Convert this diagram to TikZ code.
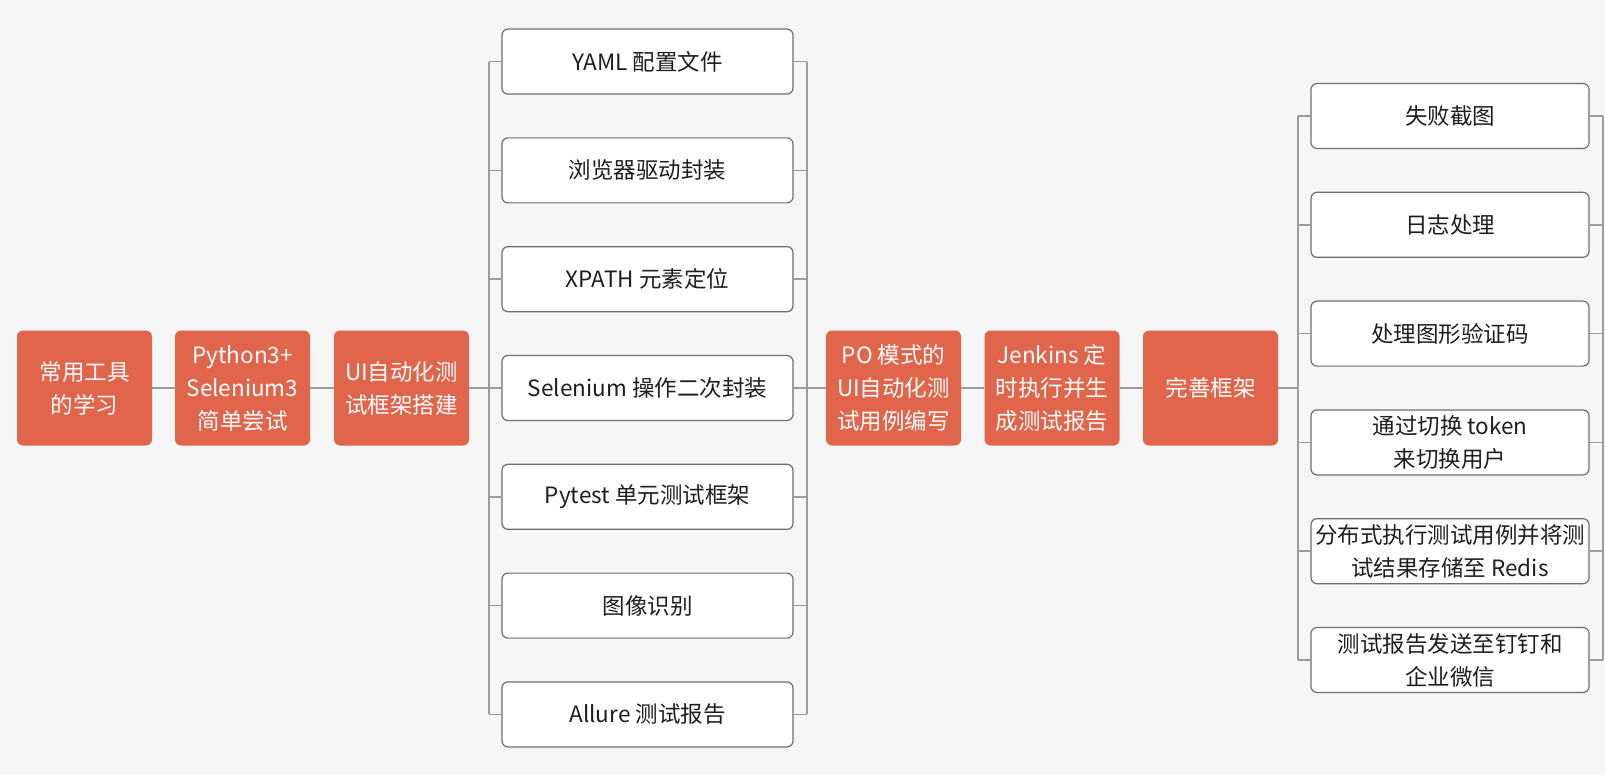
\documentclass[tikz,border=0pt]{standalone}
\usepackage{fontspec}
\setmainfont{Noto Sans CJK SC}
\usepackage{xcolor}
\usepackage{tikz}
\definecolor{bg}{HTML}{F6F6F6}
\definecolor{topic}{HTML}{E0654A}
\definecolor{edge}{HTML}{6E6E6E}
\definecolor{wire}{HTML}{9C9C9C}
\definecolor{ink}{HTML}{1E1E1E}
\tikzset{
  main/.style={fill=topic, rounded corners=6pt, minimum width=135pt, minimum height=115pt,
    inner sep=0pt, align=center, text=white, font=\fontsize{22.5pt}{33pt}\selectfont},
  sub/.style={draw=edge, fill=white, line width=1.2pt, rounded corners=6pt, minimum width=291pt,
    minimum height=65pt, inner sep=0pt, align=center, text=ink, font=\fontsize{22.5pt}{33pt}\selectfont},
  subr/.style={sub, minimum width=278pt},
  link/.style={draw=wire, line width=1.5pt},
}

\begin{document}
\begin{tikzpicture}[x=1pt, y=-1pt]
  \fill[bg] (0,0) rectangle (1605,775);
  \useasboundingbox (0,0) rectangle (1605,775);
  \pgfmathsetmacro{\cy}{388}
  \pgfmathsetmacro{\dy}{108.8}
  % main line
  \node[main] (o1) at (84.5,\cy)  {常用工具\\的学习};
  \node[main] (o2) at (242.5,\cy) {Python3+\\Selenium3\\简单尝试};
  \node[main] (o3) at (401.5,\cy) {UI自动化测\\试框架搭建};
  \node[main] (o4) at (893.5,\cy) {PO 模式的\\UI自动化测\\试用例编写};
  \node[main] (o5) at (1052,\cy)  {Jenkins 定\\时执行并生\\成测试报告};
  \node[main] (o6) at (1210.5,\cy) {完善框架};
  % framework parts
  \node[sub] (m1) at (647.5,\cy-3*\dy) {YAML 配置文件};
  \node[sub] (m2) at (647.5,\cy-2*\dy) {浏览器驱动封装};
  \node[sub] (m3) at (647.5,\cy-1*\dy) {XPATH 元素定位};
  \node[sub] (m4) at (647.5,\cy)       {Selenium 操作二次封装};
  \node[sub] (m5) at (647.5,\cy+1*\dy) {Pytest 单元测试框架};
  \node[sub] (m6) at (647.5,\cy+2*\dy) {图像识别};
  \node[sub] (m7) at (647.5,\cy+3*\dy) {Allure 测试报告};
  % improvements
  \node[subr] (q1) at (1450,\cy-2.5*\dy) {失败截图};
  \node[subr] (q2) at (1450,\cy-1.5*\dy) {日志处理};
  \node[subr] (q3) at (1450,\cy-0.5*\dy) {处理图形验证码};
  \node[subr] (q4) at (1450,\cy+0.5*\dy) {通过切换 token\\来切换用户};
  \node[subr] (q5) at (1450,\cy+1.5*\dy) {分布式执行测试用例并将测\\试结果存储至 Redis};
  \node[subr] (q6) at (1450,\cy+2.5*\dy) {测试报告发送至钉钉和\\企业微信};
  % bars
  \coordinate (lb) at (489,\cy);
  \coordinate (rb) at (807,\cy);
  \coordinate (qb) at (1298,\cy);
  \coordinate (qe) at (1603,\cy);
  \draw[link] (o1) -- (o2);
  \draw[link] (o2) -- (o3);
  \draw[link] (o3.east) -- (lb);
  \draw[link] (rb) -- (o4.west);
  \draw[link] (o4) -- (o5);
  \draw[link] (o5) -- (o6);
  \draw[link] (o6.east) -- (qb);
  \draw[link] (m1.west -| lb) -- (m7.west -| lb);
  \draw[link] (m1.east -| rb) -- (m7.east -| rb);
  \draw[link] (q1.west -| qb) -- (q6.west -| qb);
  \draw[link] (q1.east -| qe) -- (q6.east -| qe);
  \foreach \i in {1,...,7}{
    \draw[link] (m\i.west -| lb) -- (m\i.west);
    \draw[link] (m\i.east) -- (m\i.east -| rb);
  }
  \foreach \i in {1,...,6}{
    \draw[link] (q\i.west -| qb) -- (q\i.west);
    \draw[link] (q\i.east) -- (q\i.east -| qe);
  }
\end{tikzpicture}
\end{document}
